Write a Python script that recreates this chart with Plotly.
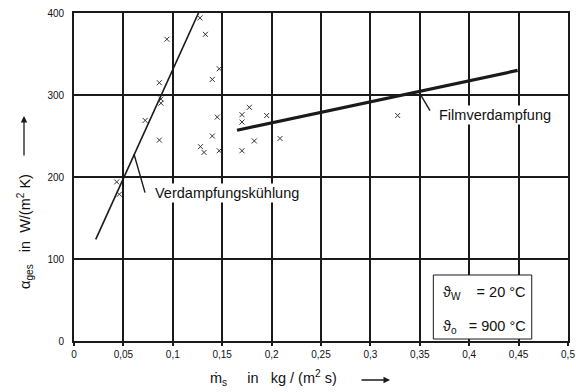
import plotly.graph_objects as go

# ---- data ----
meas_x = [0.1275, 0.133, 0.094, 0.147, 0.140, 0.0864, 0.088, 0.088, 0.072, 0.0864,
          0.145, 0.170, 0.1775, 0.170, 0.195, 0.140, 0.1825, 0.2085, 0.128, 0.1316,
          0.147, 0.170, 0.0432, 0.0459, 0.3276]
meas_y = [394, 374, 368, 332, 319, 315, 295, 290, 269, 245,
          273, 276, 285, 267, 275, 250, 244, 247, 237, 230,
          232, 232, 194, 179, 275]

kuehl_x = [0.022, 0.126]
kuehl_y = [124, 400]

film_x = [0.165, 0.449]
film_y = [257, 330]

x_ticks = [0, 0.05, 0.1, 0.15, 0.2, 0.25, 0.3, 0.35, 0.4, 0.45, 0.5]
x_ticklabels = ["0", "0,05", "0,1", "0,15", "0,2", "0,25", "0,3", "0,35", "0,4", "0,45", "0,5"]
y_ticks = [0, 100, 200, 300, 400]
y_ticklabels = ["0", "100", "200", "300", "400"]

FONT = "Liberation Sans, Arial, sans-serif"
INK = "#1a1a1a"

fig = go.Figure()

fig.add_trace(go.Scatter(
    x=kuehl_x, y=kuehl_y, mode="lines",
    line=dict(color=INK, width=1.6), showlegend=False, hoverinfo="skip"))
fig.add_trace(go.Scatter(
    x=film_x, y=film_y, mode="lines",
    line=dict(color=INK, width=3.2), showlegend=False, hoverinfo="skip"))
fig.add_trace(go.Scatter(
    x=meas_x, y=meas_y, mode="markers",
    marker=dict(symbol="x-thin-open", size=5, color="#333333",
                line=dict(color="#333333", width=1)),
    showlegend=False))

shapes = [
    # leader lines
    dict(type="line", xref="x", yref="y", x0=0.0607, y0=228, x1=0.0719, y1=181,
         line=dict(color=INK, width=1.4), layer="above"),
    dict(type="line", xref="x", yref="y", x0=0.350, y0=302, x1=0.3603, y1=281,
         line=dict(color=INK, width=1.4), layer="above"),
    # info box
    dict(type="rect", xref="x", yref="y", x0=0.3637, y0=2.4, x1=0.4633, y1=80.5,
         fillcolor="white", line=dict(color=INK, width=1), layer="above"),
]

annotations = [
    dict(x=0.080, y=180.5, xref="x", yref="y", text="Verdampfungskühlung",
         showarrow=False, xanchor="left", yanchor="middle", bgcolor="white",
         font=dict(size=14.5, family=FONT, color="#111")),
    dict(x=0.367, y=275.6, xref="x", yref="y", text="Filmverdampfung",
         showarrow=False, xanchor="left", yanchor="middle", bgcolor="white",
         font=dict(size=14.5, family=FONT, color="#111")),
    dict(x=0.3715, y=59, xref="x", yref="y",
         text="ϑ<sub>W</sub>\u00a0\u00a0\u00a0 = 20 °C",
         showarrow=False, xanchor="left", yanchor="middle",
         font=dict(size=14.5, family=FONT, color="#111")),
    dict(x=0.3715, y=17, xref="x", yref="y",
         text="ϑ<sub>o</sub>\u00a0\u00a0 = 900 °C",
         showarrow=False, xanchor="left", yanchor="middle",
         font=dict(size=14.5, family=FONT, color="#111")),
    # x-axis title
    dict(x=(273 - 74) / 494, y=(341 - 378) / 328, xref="paper", yref="paper",
         text="ṁ<sub>s</sub>\u00a0\u00a0\u00a0\u00a0\u00a0in\u00a0\u00a0 kg / (m<sup>2</sup> s)",
         showarrow=False, xanchor="center", yanchor="middle",
         font=dict(size=14.5, family=FONT, color="#111")),
    dict(x=(390 - 74) / 494, y=(341 - 380) / 328, xref="paper", yref="paper",
         text="", showarrow=True, ax=-30, ay=0, arrowhead=2, arrowsize=1,
         arrowwidth=1.3, arrowcolor=INK),
    # y-axis title
    dict(x=(25 - 74) / 494, y=(341 - 232) / 328, xref="paper", yref="paper",
         text="α<sub>ges</sub>\u00a0\u00a0 in\u00a0\u00a0W/(m<sup>2</sup> K)",
         textangle=-90, showarrow=False, xanchor="center", yanchor="middle",
         font=dict(size=14.5, family=FONT, color="#111")),
    dict(x=(24 - 74) / 494, y=(341 - 116) / 328, xref="paper", yref="paper",
         text="", showarrow=True, ax=0, ay=41, arrowhead=2, arrowsize=1,
         arrowwidth=1.3, arrowcolor=INK),
]

fig.update_layout(
    template="none",
    width=576, height=392,
    margin=dict(l=74, r=8, t=13, b=51, autoexpand=False),
    paper_bgcolor="white", plot_bgcolor="white",
    font=dict(family=FONT, color="#111"),
    shapes=shapes, annotations=annotations,
    showlegend=False,
)
fig.update_xaxes(
    range=[0, 0.5], tickvals=x_ticks, ticktext=x_ticklabels, automargin=False,
    showgrid=True, gridcolor=INK, gridwidth=1.8,
    showline=True, linecolor=INK, linewidth=1.8, mirror=True,
    ticks="outside", ticklen=3, tickcolor=INK, tickwidth=1.5,
    tickfont=dict(size=10, family=FONT, color="#111"), zeroline=False,
)
fig.update_yaxes(
    range=[0, 400], tickvals=y_ticks, ticktext=y_ticklabels, automargin=False,
    showgrid=True, gridcolor=INK, gridwidth=1.8,
    showline=True, linecolor=INK, linewidth=1.8, mirror=True,
    ticks="", ticklabelstandoff=6,
    tickfont=dict(size=10, family=FONT, color="#111"), zeroline=False,
)

fig.write_html(
    "out.html",
    config={"displayModeBar": False},
    post_script="document.body.style.margin='0';document.body.style.overflow='hidden';",
)
